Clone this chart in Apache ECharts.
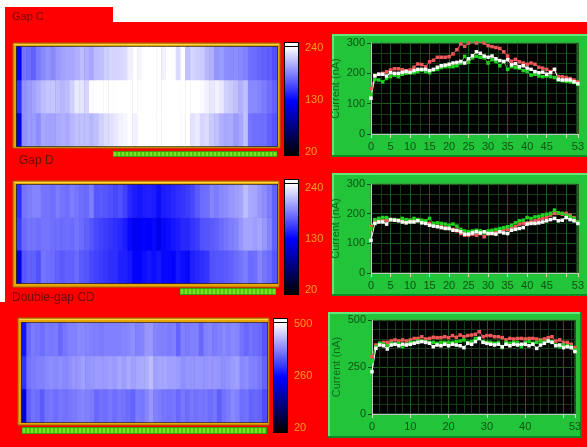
<!DOCTYPE html>
<html>
<head>
<meta charset="utf-8">
<title>Gap currents</title>
<script src="https://cdn.jsdelivr.net/npm/echarts@6/dist/echarts.min.js"></script>
<style>
  html, body { margin: 0; padding: 0; background: #ffffff; }
  #chart { width: 587px; height: 447px; }
</style>
</head>
<body>
<div id="chart"></div>
<script>
// ---------------- data ----------------
// Sample positions along each gap (54 readings)
const samplePositions = [0,1,2,3,4,5,6,7,8,9,10,11,12,13,14,15,16,17,18,19,20,21,22,23,24,25,26,
  27,28,29,30,31,32,33,34,35,36,37,38,39,40,41,42,43,44,45,46,47,48,49,50,51,52,53];

// Heatmap rows, bottom to top
const heatRows = ['white', 'red', 'green'];

// Gap C currents (nA)
const gapC_red = [150,192,197,200,205,211,215,215,212,209,211,220,231,229,222,238,243,253,253,253,255,264,278,297,289,300,302,
  300,302,300,291,288,285,282,271,257,240,246,238,234,230,234,230,220,217,213,206,213,189,189,186,183,178,172];
const gapC_white = [118,192,197,197,191,202,200,200,203,206,203,209,213,213,213,209,213,220,225,227,230,234,236,239,234,248,258,
  271,266,257,253,257,248,242,239,245,228,232,222,225,217,213,206,202,204,197,202,213,180,178,178,178,172,166];
const gapC_green = [130,180,178,172,183,189,194,189,197,200,202,202,206,211,206,202,211,213,219,222,222,222,225,234,256,236,251,
  256,253,251,234,245,239,225,239,213,222,219,217,209,206,194,197,191,189,191,189,186,178,176,174,172,170,164];

// Gap D currents (nA)
const gapD_red = [156,176,180,180,178,180,180,178,178,176,178,176,180,176,172,167,161,158,156,153,150,147,142,133,127,127,131,
  127,133,122,133,135,139,142,147,147,153,156,165,167,169,172,176,180,184,187,195,201,201,198,201,195,187,172];
const gapD_white = [110,167,172,172,165,180,178,176,172,169,172,172,176,169,167,161,158,156,153,150,150,144,144,139,131,131,135,
  139,135,139,133,133,131,139,135,133,144,147,150,153,165,167,167,169,172,176,180,184,176,178,187,180,176,167];
const gapD_green = [150,180,184,187,187,180,180,178,184,180,178,184,180,178,176,184,167,169,167,165,161,165,158,147,142,139,142,
  144,142,135,142,144,147,150,153,156,161,169,176,178,187,184,189,191,195,198,201,212,203,201,195,191,184,172];

// Double-gap CD currents (nA)
const gapCD_red = [305,367,376,381,381,388,394,388,394,388,394,402,402,411,399,402,408,406,406,411,406,417,408,420,411,417,420,
  424,438,411,417,417,411,411,406,394,402,399,402,402,399,402,402,399,394,399,406,411,388,394,381,381,371,353];
const gapCD_white = [225,349,367,363,346,367,371,363,371,367,371,376,381,385,381,376,358,367,363,371,363,371,367,363,353,376,371,
  385,402,381,376,371,367,371,358,371,363,371,367,371,371,363,371,349,367,376,388,381,363,367,353,358,353,332];
const gapCD_green = [278,358,376,371,363,376,371,376,358,371,381,381,388,388,385,381,381,376,381,381,381,381,385,388,394,381,385,
  402,402,385,381,381,376,381,353,381,376,381,381,358,381,385,376,381,388,381,388,385,367,358,367,363,358,340];

// Tick values
const gapPositionLabels = [0,5,10,15,20,25,30,35,40,45,53];
const gapPositionTicks = [0,5,10,15,20,25,30,35,40,45,50,53];
const cdPositionLabels = [0,10,20,30,40,53];
const cdPositionTicks = [0,10,20,30,40,50,53];
const gapCurrentTicks = [0,100,200,300];
const cdCurrentTicks = [0,250,500];
const gapScaleTicks = [20,130,240];
const cdScaleTicks = [20,260,500];

// ---------------- layout & style ----------------
const FONT = '"Liberation Sans", Arial, sans-serif';
const ORANGE = '#ff9d1c';
const DARK_GREEN = '#0c5512';
const PANEL_GREEN = '#22c43a';
const COLORS = { red: '#ef5858', white: '#ffffff', green: '#1fd41f' };

const layouts = [
  { titleX: 12, titleY: 17, titleSize: 11,
    frame: [13, 43, 267, 105], heat: [17, 47, 260, 99],
    bar: [284, 42, 15, 114], scale: [48, 152], led: [113, 151, 164, 6],
    box: [332, 34, 258, 123], plot: [371, 43, 209, 91] },
  { titleX: 19, titleY: 161, titleSize: 12,
    frame: [13, 181, 266, 106], heat: [17, 185, 260, 98],
    bar: [284, 179, 15, 116], scale: [188, 290], led: [180, 288, 96, 7],
    box: [332, 173, 258, 123], plot: [371, 184, 209, 89] },
  { titleX: 12, titleY: 298, titleSize: 12,
    frame: [18, 318, 251, 107], heat: [22, 323, 245, 99],
    bar: [273, 318, 15, 115], scale: [324, 428], led: [22, 427, 245, 7],
    box: [328, 312, 254, 126], plot: [372, 320, 203, 94] }
];

const panels = [
  { title: 'Gap C', red: gapC_red, white: gapC_white, green: gapC_green,
    scaleTicks: gapScaleTicks, currentTicks: gapCurrentTicks,
    xLabels: gapPositionLabels, xTicks: gapPositionTicks, xMinor: 2, yMinor: 3 },
  { title: 'Gap D', red: gapD_red, white: gapD_white, green: gapD_green,
    scaleTicks: gapScaleTicks, currentTicks: gapCurrentTicks,
    xLabels: gapPositionLabels, xTicks: gapPositionTicks, xMinor: 2, yMinor: 3 },
  { title: 'Double-gap CD', red: gapCD_red, white: gapCD_white, green: gapCD_green,
    scaleTicks: cdScaleTicks, currentTicks: cdCurrentTicks,
    xLabels: cdPositionLabels, xTicks: cdPositionTicks, xMinor: 5, yMinor: 5 }
];

// ---------------- build option ----------------
const grid = [], xAxis = [], yAxis = [], series = [], visualMap = [], elements = [];

// Red front panel with the white margin at the top and left
elements.push(
  { type: 'rect', z: -30, shape: { x: 5, y: 7, width: 108, height: 16 }, style: { fill: '#ff0000' } },
  { type: 'rect', z: -30, shape: { x: 5, y: 22, width: 582, height: 425 }, style: { fill: '#ff0000' } },
  { type: 'rect', z: -30, shape: { x: 0, y: 302, width: 5, height: 145 }, style: { fill: '#ff0000' } }
);

panels.forEach((p, k) => {
  const L = layouts[k];
  const rowsData = { white: p.white, red: p.red, green: p.green };

  // --- heatmap ---
  const gH = grid.length;
  grid.push({ left: L.heat[0], top: L.heat[1], width: L.heat[2], height: L.heat[3], show: false });
  xAxis.push({ gridIndex: gH, type: 'category', data: samplePositions, show: false });
  yAxis.push({ gridIndex: gH, type: 'category', data: heatRows, show: false });
  const heatData = [];
  heatRows.forEach((row, r) => {
    rowsData[row].forEach((v, i) => heatData.push([i, r, v]));
  });
  visualMap.push({
    type: 'continuous', show: false, seriesIndex: series.length,
    min: p.scaleTicks[0], max: p.scaleTicks[p.scaleTicks.length - 1],
    inRange: { color: ['#000000', '#0000ff', '#ffffff'] },
    outOfRange: { color: ['#ffffff'] }
  });
  series.push({
    type: 'heatmap', xAxisIndex: gH, yAxisIndex: gH, data: heatData,
    silent: true, emphasis: { disabled: true }, itemStyle: { borderWidth: 0 }
  });

  // --- colour scale axis ---
  const gS = grid.length;
  grid.push({ left: L.bar[0], top: L.scale[0], width: L.bar[2], height: L.scale[1] - L.scale[0], show: false });
  xAxis.push({ gridIndex: gS, type: 'value', show: false });
  yAxis.push({
    gridIndex: gS, type: 'value', position: 'right',
    min: p.scaleTicks[0], max: p.scaleTicks[p.scaleTicks.length - 1],
    axisLine: { show: false },
    axisTick: { show: true, length: 4, customValues: p.scaleTicks, lineStyle: { color: ORANGE } },
    axisLabel: { customValues: p.scaleTicks, color: ORANGE, fontSize: 11, fontFamily: FONT, margin: 6 },
    splitLine: { show: false }
  });

  // --- current graph ---
  const gL = grid.length;
  const cMin = p.currentTicks[0], cMax = p.currentTicks[p.currentTicks.length - 1];
  grid.push({
    left: L.plot[0], top: L.plot[1], width: L.plot[2], height: L.plot[3],
    show: true, backgroundColor: '#000000', borderColor: '#3d8a3d', borderWidth: 1
  });
  xAxis.push({
    gridIndex: gL, type: 'value', min: 0, max: 53, interval: p.xTicks[1] - p.xTicks[0],
    axisLine: { lineStyle: { color: '#c4c4c4', width: 1 } },
    axisTick: { show: true, length: 4, customValues: p.xTicks, lineStyle: { color: '#d8d8d8' } },
    axisLabel: { customValues: p.xLabels, color: DARK_GREEN, fontSize: 11, fontFamily: FONT, margin: 7 },
    splitLine: { show: true, lineStyle: { color: '#1e5c1e', width: 1 } },
    minorTick: { show: false, splitNumber: p.xMinor },
    minorSplitLine: { show: true, lineStyle: { color: '#123c12', width: 1 } }
  });
  yAxis.push({
    gridIndex: gL, type: 'value', min: cMin, max: cMax, interval: p.currentTicks[1] - p.currentTicks[0],
    name: 'Current (nA)', nameLocation: 'middle', nameGap: 30,
    nameTextStyle: { color: '#0f6a18', fontSize: 11, fontFamily: FONT },
    axisLine: { lineStyle: { color: '#c4c4c4', width: 1 } },
    axisTick: { show: true, length: 4, lineStyle: { color: DARK_GREEN } },
    axisLabel: { color: DARK_GREEN, fontSize: 11, fontFamily: FONT, margin: 6 },
    splitLine: { show: true, lineStyle: { color: '#1e5c1e', width: 1 } },
    minorTick: { show: false, splitNumber: p.yMinor },
    minorSplitLine: { show: true, lineStyle: { color: '#123c12', width: 1 } }
  });
  ['red', 'green', 'white'].forEach(name => {
    series.push({
      type: 'line', xAxisIndex: gL, yAxisIndex: gL,
      data: rowsData[name].map((v, i) => [samplePositions[i], v]),
      symbol: 'rect', symbolSize: 3.5, showSymbol: true,
      lineStyle: { color: COLORS[name], width: 1 },
      itemStyle: { color: COLORS[name] },
      silent: true, z: 3
    });
  });

  // --- decorations: raised green graph panel ---
  const [bx, by, bw, bh] = L.box;
  elements.push(
    { type: 'rect', z: -20, shape: { x: bx, y: by, width: bw, height: bh }, style: { fill: PANEL_GREEN } },
    { type: 'rect', z: -19, shape: { x: bx, y: by, width: bw, height: 2 }, style: { fill: '#66e57a' } },
    { type: 'rect', z: -19, shape: { x: bx, y: by, width: 2, height: bh }, style: { fill: '#66e57a' } },
    { type: 'rect', z: -19, shape: { x: bx, y: by + bh - 2, width: bw, height: 2 }, style: { fill: '#128a26' } },
    { type: 'rect', z: -19, shape: { x: bx + bw - 2, y: by, width: 2, height: bh }, style: { fill: '#128a26' } }
  );

  // --- gold frame round the heatmap ---
  const [fx, fy, fw, fh] = L.frame;
  const [hx, hy, hw, hh] = L.heat;
  elements.push(
    { type: 'rect', z: -20, shape: { x: fx, y: fy, width: fw, height: fh }, style: { fill: '#e8a500', stroke: '#9c6a00', lineWidth: 1 } },
    { type: 'rect', z: -19, shape: { x: fx + 1, y: fy + 1, width: fw - 2, height: 1 }, style: { fill: '#ffd448' } },
    { type: 'rect', z: -18, shape: { x: hx - 1, y: hy - 1, width: hw + 2, height: hh + 2 }, style: { fill: '#3c2c00' } }
  );

  // --- colour scale bar ---
  const [cx, cy, cw, ch] = L.bar;
  elements.push(
    { type: 'rect', z: 5, shape: { x: cx, y: cy, width: cw, height: ch }, style: { fill: '#000000' } },
    { type: 'rect', z: 6, shape: { x: cx + 1, y: cy + 1, width: cw - 2, height: 3 }, style: { fill: '#ffffff' } },
    { type: 'rect', z: 6, shape: { x: cx + 1, y: cy + 5, width: cw - 2, height: ch - 6 },
      style: { fill: new echarts.graphic.LinearGradient(0, 0, 0, 1, [
        { offset: 0, color: '#ffffff' }, { offset: 0.5, color: '#0000ff' }, { offset: 1, color: '#000000' }
      ]) } }
  );

  // --- LED strip below the heatmap ---
  const [lx, ly, lw, lh] = L.led;
  elements.push({ type: 'rect', z: -15, shape: { x: lx, y: ly, width: lw, height: lh }, style: { fill: '#3c9c0c' } });
  for (let s = lx; s + 3 <= lx + lw; s += 4) {
    elements.push({ type: 'rect', z: -14, shape: { x: s + 0.5, y: ly + 1, width: 3, height: lh - 2 }, style: { fill: '#72e61e' } });
  }

  // --- section title ---
  elements.push({
    type: 'text', z: 10, x: L.titleX, y: L.titleY,
    style: { text: p.title, fill: '#6a0c0c', fontSize: L.titleSize, fontFamily: FONT, verticalAlign: 'middle' }
  });
});

const chart = echarts.init(document.getElementById('chart'), null, { renderer: 'canvas' });
chart.setOption({
  animation: false,
  backgroundColor: '#ffffff',
  grid, xAxis, yAxis, series, visualMap,
  graphic: { elements }
});
</script>
</body>
</html>
